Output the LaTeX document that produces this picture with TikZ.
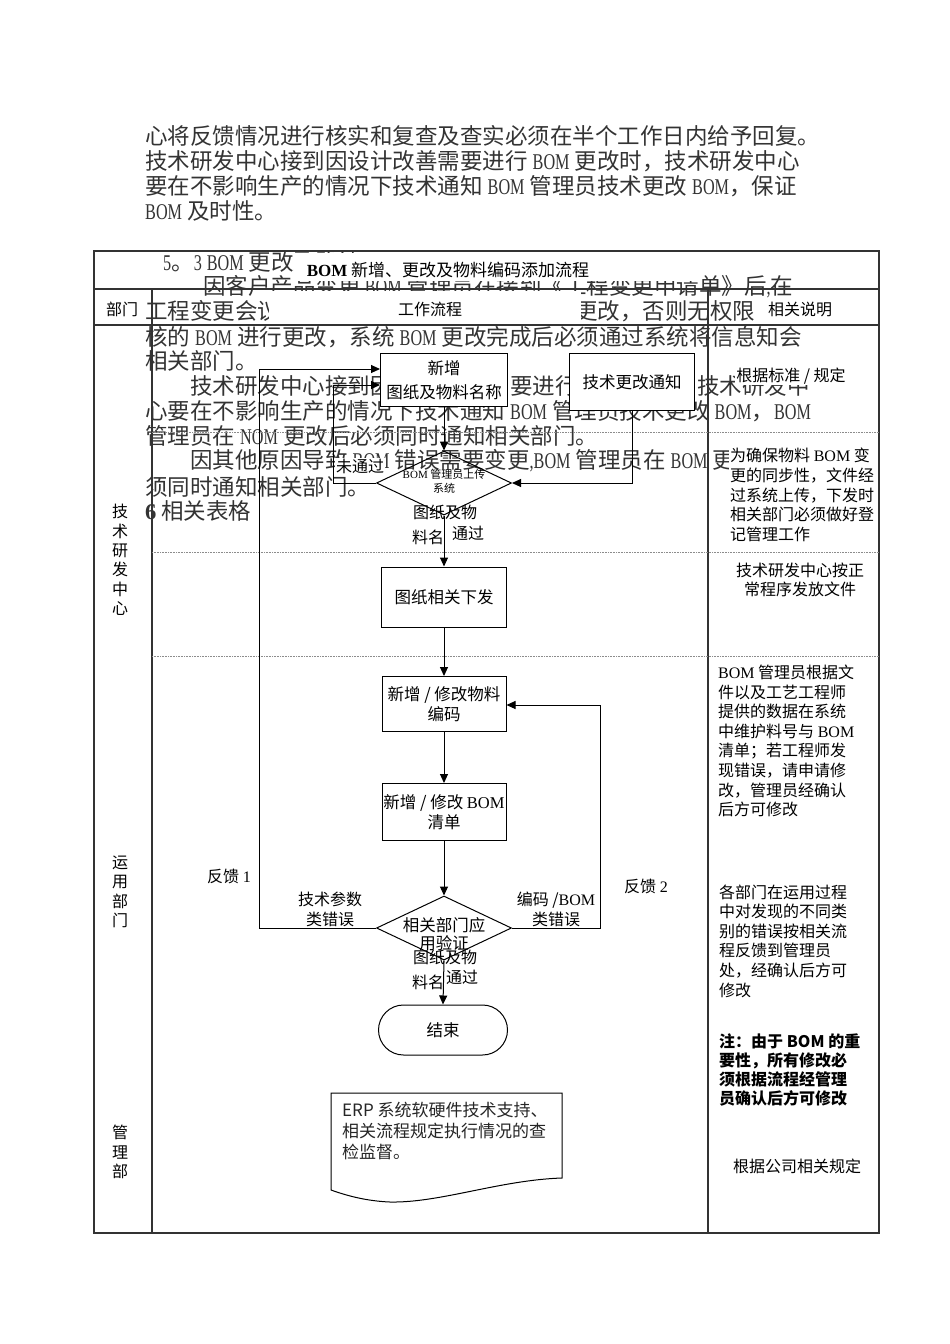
\documentclass[tikz,border=0pt]{standalone}
\usepackage{fontspec}
\setmainfont{Noto Sans CJK SC}
\newfontfamily\serif{Liberation Serif}
\newfontfamily\etroit{Liberation Serif}[FakeStretch=0.72]
\usetikzlibrary{shapes.geometric,arrows.meta}

\def\BOM{{\serif BOM}}
\def\bom{{\etroit BOM}}

\tikzset{
  corps/.style={anchor=west,inner sep=0pt,text=black!80,font=\fontsize{22.5}{25}\selectfont},
  boite/.style={draw,fill=white,line width=1pt,align=center,inner sep=1pt,font=\fontsize{16.5}{19.5}\selectfont},
  losange/.style={draw,diamond,line width=1pt,inner sep=0pt,minimum width=135pt,minimum height=64pt},
  fleche/.style={line width=1pt,-{Triangle[length=9pt,width=8pt]}},
  etiq/.style={inner sep=1pt,align=center,font=\fontsize{16}{20}\selectfont},
  note/.style={anchor=west,inner sep=1pt,fill=white,align=left,font=\fontsize{16}{19.6}\selectfont},
  dept/.style={inner sep=0pt,align=center,font=\fontsize{16}{19.4}\selectfont},
  cadre/.style={black!80,line width=1.2pt},
  pointille/.style={densely dotted,black!45,line width=0.6pt},
}

\begin{document}
\begin{tikzpicture}[x=1pt,y=-1pt]
\useasboundingbox (0,0) rectangle (950,1344);
\fill[white] (0,0) rectangle (950,1344);

% texte courant de la page (sous le tableau)
\node[corps] (t1) at (145,136) {心将反馈情况进行核实和复查及查实必须在半个工作日内给予回复。};
\node[corps] (t2) at (145,161) {技术研发中心接到因设计改善需要进行 \bom{} 更改时，技术研发中心};
\node[corps] (t3) at (145,186) {要在不影响生产的情况下技术通知 \bom{} 管理员技术更改 \bom，保证};
\node[corps] (t4) at (145,211) {\bom{} 及时性。};
\node[corps] (t5) at (163,262) {{\etroit 5}。{\etroit 3} \bom{} 更改及确认};
\node[corps] (t6) at (203,287) {因客户产品变更{\etroit ,}\bom{} 管理员在接到《工程变更申请单》后{\etroit ,}在};
\node[corps] (t7a) at (145,311) {工程变更会议};
\node[corps] (t7b) at (575,311) {更改，否则无权限};
\node[corps] (t8) at (145,337) {核的 \bom{} 进行更改，系统 \bom{} 更改完成后必须通过系统将信息知会};
\node[corps] (t9) at (145,361) {相关部门。};
\node[corps] (t10a) at (190,386) {技术研发中心接到因};
\node[corps] (t10b) at (510,386) {要进行};
\node[corps] (t10c) at (697,386) {技术研发中};
\node[corps] (t11) at (145,411) {心要在不影响生产的情况下技术通知 \bom{} 管理员技术更改 \bom，\bom};
\node[corps] (t12) at (145,436) {管理员在 {\etroit NOM} 更改后必须同时通知相关部门。};
\node[corps] (t13) at (190,461) {因其他原因导致 \bom{} 错误需要变更{\etroit ,}\bom{} 管理员在 \bom{} 更};
\node[corps] (t14) at (145,487) {须同时通知相关部门。};
\node[corps] (t15) at (145,511) {{\serif\bfseries 6} 相关表格};

% caches blancs des zones de texte
\fill[white] (294,253) rectangle (700,281);
\fill[white] (269,291) rectangle (581,324);

% tableau
\coordinate (NO) at (94,251);
\coordinate (SE) at (879,1233);
\draw[cadre] (NO) rectangle (SE);
\draw[cadre] (94,289) -- (879,289);
\draw[cadre] (94,325) -- (879,325);
\draw[cadre] (152,289) -- (152,1233);
\draw[cadre] (708,289) -- (708,1233);
\foreach \y in {432,552,656}{\draw[pointille] (152,\y) -- (879,\y);}

\node[font=\fontsize{17}{20}\selectfont,inner sep=0pt] (titre) at (448,270) {{\serif\bfseries BOM} 新增、更改及物料编码添加流程};
\node[etiq] (hdept) at (122,309) {部门};
\node[etiq] (hflux) at (430,309) {工作流程};
\node[etiq] (hnote) at (800,309) {相关说明};

% departements
\node[dept] (dtech) at (120,560) {技\\术\\研\\发\\中\\心};
\node[dept] (dusage) at (120,892) {运\\用\\部\\门};
\node[dept] (dadmin) at (120,1152) {管\\理\\部};

% etapes du flux
\node[boite,minimum width=127pt,minimum height=53pt] (nouveau) at (444,380) {新增\\[5pt]图纸及物料名称};
\node[boite,minimum width=125pt,minimum height=57pt] (notif) at (632,382) {技术更改通知};
\node[losange] (upload) at (444,483) {};
\node[font=\fontsize{11}{14}\selectfont,align=center,inner sep=0pt] (uploadtxt) at (444,481) {{\serif BOM} 管理员上传\\系统};
\node[boite,minimum width=125pt,minimum height=60pt] (diffusion) at (444,597) {图纸相关下发};
\node[boite,minimum width=124pt,minimum height=55pt] (codage) at (444,704) {新增 / 修改物料\\编码};
\node[boite,minimum width=124pt,minimum height=57pt] (liste) at (444,812) {新增 / 修改 \BOM\\清单};
\node[losange] (verif) at (444,928) {};
\node[font=\fontsize{16.5}{18}\selectfont,align=center,inner sep=0pt] (veriftxt) at (444,934) {相关部门应\\用验证};
\node[boite,rounded corners=25pt,minimum width=129pt,minimum height=50pt] (fin) at (443,1030) {结束};

% liaisons
\draw[fleche] (nouveau.south) -- (upload.north);
\draw[fleche] (notif.south) |- (upload.east);
\draw[fleche] (upload.south) -- (diffusion.north);
\draw[fleche] (diffusion.south) -- (codage.north);
\draw[fleche] (codage.south) -- (liste.north);
\draw[fleche] (liste.south) -- (verif.north);
\draw[fleche] (verif.south) -- (fin.north);
\coordinate (retourA) at (333,385);
\draw[fleche] (upload.west) -| (retourA) -- (retourA -| nouveau.west);
\coordinate (retourB) at (259,369);
\draw[fleche] (verif.west) -| (retourB) -- (retourB -| nouveau.west);
\coordinate (retourC) at (600,705);
\draw[fleche] (verif.east) -| (retourC) -- (retourC -| codage.east);

% etiquettes
\node[etiq,fill=white] (nonok) at (360,466) {未通过};
\node[etiq] (dup1) at (445,512) {图纸及物};
\node[etiq] (dup2) at (428,537) {料名};
\node[etiq,fill=white] (ok1) at (468,533) {通过};
\node[etiq] (fb1) at (229,876) {反馈 {\serif 1}};
\node[etiq] (fb2) at (646,886) {反馈 {\serif 2}};
\node[etiq] (errtech) at (330,909) {技术参数\\类错误};
\node[etiq] (errcode) at (556,909) {编码 /\BOM\\类错误};
\node[etiq] (dup3) at (445,957) {图纸及物};
\node[etiq] (dup4) at (428,982) {料名};
\node[etiq,fill=white] (ok2) at (462,977) {通过};

% document ERP
\draw[line width=1pt,fill=white] (331,1093) -- (562,1093) -- (562,1178)
  .. controls (500,1180) and (440,1203) .. (390,1202)
  .. controls (365,1201) and (345,1195) .. (331,1190) -- cycle;
\node[anchor=west,align=left,inner sep=0pt,text=black!85,font=\fontsize{17}{21}\selectfont] (erp) at (342,1131) {ERP 系统软硬件技术支持、\\相关流程规定执行情况的查\\检监督。};

% colonne des remarques
\node[note,anchor=center] (n1) at (791,376) {根据标准 / 规定};
\node[note] (n2) at (729,495) {为确保物料 \BOM{} 变\\更的同步性，文件经\\过系统上传，下发时\\相关部门必须做好登\\记管理工作};
\node[note,anchor=center,align=center] (n3) at (800,580) {技术研发中心按正\\常程序发放文件};
\node[note] (n4) at (717,741) {\BOM{} 管理员根据文\\件以及工艺工程师\\提供的数据在系统\\中维护料号与 \BOM\\清单；若工程师发\\现错误，请申请修\\改，管理员经确认\\后方可修改};
\node[note] (n5) at (718,941) {各部门在运用过程\\中对发现的不同类\\别的错误按相关流\\程反馈到管理员\\处，经确认后方可\\修改};
\node[note,font=\bfseries\fontsize{16}{18.7}\selectfont] (n6) at (718,1070) {注：由于 BOM 的重\\要性，所有修改必\\须根据流程经管理\\员确认后方可修改};
\node[note,anchor=center] (n7) at (797,1166) {根据公司相关规定};
\end{tikzpicture}
\end{document}
